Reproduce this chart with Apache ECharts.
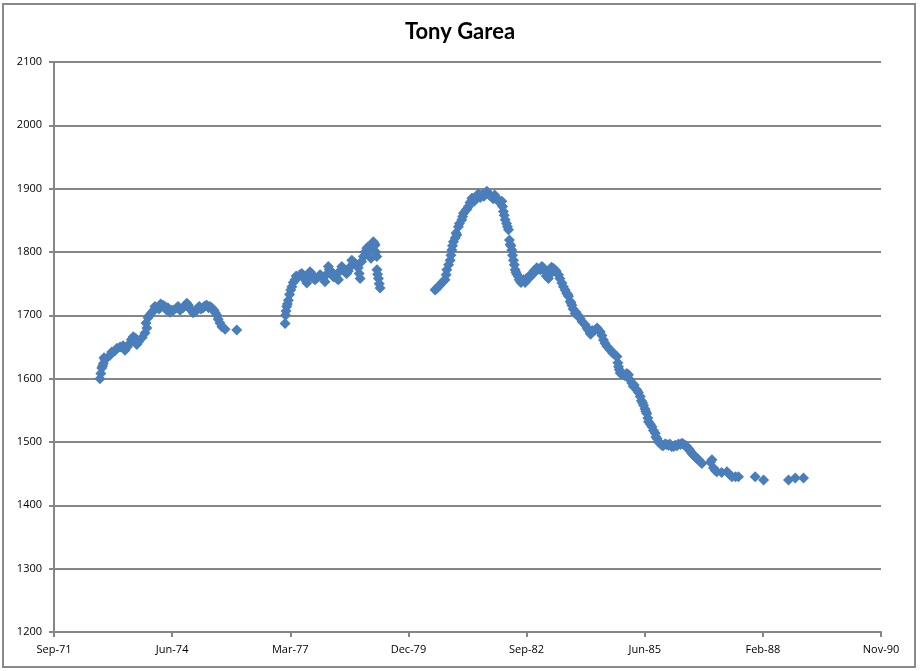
<!DOCTYPE html>
<html>
<head>
<meta charset="utf-8">
<script src="https://cdn.jsdelivr.net/npm/echarts@6/dist/echarts.min.js"></script>
<style>
  html, body { margin: 0; padding: 0; background: #fff; }
  #chart { width: 920px; height: 671px; }
</style>
</head>
<body>
<div id="chart"></div>
<script>
// rating history (scatter, so order does not matter)
var dates = [
  '1972-10-17', '1972-10-25', '1972-11-01', '1972-11-15', '1972-11-29', '1973-01-10', '1973-02-21',
  '1973-04-05', '1973-05-17', '1973-06-28', '1973-07-26', '1973-09-07', '1973-10-10', '1973-11-02',
  '1973-11-11', '1973-11-28', '1973-12-29', '1974-02-10', '1974-03-01', '1974-04-04', '1974-05-01',
  '1974-06-02', '1974-07-01', '1974-07-29', '1974-08-26', '1974-09-20', '1974-10-22', '1974-11-20',
  '1974-12-14', '1975-01-25', '1975-02-20', '1975-03-25', '1975-04-25', '1975-05-21', '1975-06-10',
  '1975-07-03', '1975-07-30', '1975-09-11', '1975-12-19',
  '1977-01-31', '1977-02-04', '1977-02-14', '1977-02-28', '1977-03-10', '1977-03-29', '1977-04-25',
  '1977-05-20', '1977-06-21', '1977-07-15', '1977-08-03', '1977-08-30', '1977-09-20', '1977-10-12',
  '1977-11-23', '1977-12-15', '1978-01-04', '1978-02-01', '1978-02-20', '1978-03-16', '1978-04-05',
  '1978-04-27', '1978-05-26', '1978-06-15', '1978-07-07', '1978-08-01', '1978-08-19', '1978-09-30',
  '1978-10-12', '1978-10-28', '1978-11-25', '1978-12-24', '1979-01-10', '1979-01-28', '1979-02-17',
  '1979-03-04', '1979-03-10', '1979-03-18', '1979-03-20', '1979-04-01', '1979-04-15',
  '1980-07-24', '1980-08-15', '1980-09-04', '1980-10-16', '1980-10-31', '1980-11-28', '1980-12-12',
  '1980-12-26', '1981-01-10', '1981-01-24', '1981-02-06', '1981-03-07', '1981-03-21', '1981-04-10',
  '1981-05-02', '1981-05-31', '1981-06-20', '1981-07-12', '1981-08-23', '1981-09-10', '1981-10-05',
  '1981-11-16', '1981-12-10', '1981-12-28', '1982-01-20', '1982-02-09', '1982-02-22', '1982-03-09',
  '1982-04-06', '1982-04-14', '1982-04-26', '1982-05-04', '1982-05-18', '1982-06-01', '1982-06-15',
  '1982-06-29', '1982-07-20', '1982-08-11', '1982-09-22', '1982-10-20', '1982-11-18', '1982-12-15',
  '1983-01-13', '1983-02-05', '1983-03-10', '1983-04-22', '1983-05-15', '1983-06-03', '1983-07-02',
  '1983-07-30', '1983-08-12', '1983-08-27', '1983-09-10', '1983-09-24', '1983-10-22', '1983-11-15',
  '1983-12-04', '1984-01-15', '1984-02-26', '1984-03-15', '1984-04-09', '1984-05-01', '1984-05-21',
  '1984-06-18', '1984-07-17', '1984-08-28', '1984-09-20', '1984-10-10', '1984-10-23', '1984-11-06',
  '1984-12-15', '1985-01-16', '1985-02-13', '1985-03-05', '1985-03-28', '1985-04-25', '1985-05-05',
  '1985-05-23', '1985-06-05', '1985-06-20', '1985-07-04', '1985-08-02', '1985-08-30', '1985-09-15',
  '1985-09-27', '1985-10-25', '1985-11-20', '1985-12-20', '1986-01-15', '1986-02-15', '1986-03-15',
  '1986-04-13', '1986-05-25', '1986-06-15', '1986-07-06', '1986-07-28', '1986-08-18', '1986-09-29',
  '1986-12-23', '1987-01-05', '1987-02-03', '1987-04-29', '1987-06-10', '1987-08-05', '1987-12-24',
  '1988-03-04', '1988-10-01', '1988-11-27', '1989-02-05',
  // more readings along the edges of the band
  '1972-11-08', '1972-11-20', '1973-01-25', '1973-03-10', '1973-05-01', '1973-06-05', '1973-07-10',
  '1973-08-15', '1973-08-25', '1973-11-18', '1973-12-10', '1974-01-15', '1974-01-25', '1974-03-15',
  '1974-04-20', '1974-05-15', '1974-06-15', '1974-08-10', '1974-10-05', '1974-11-05', '1974-12-01',
  '1975-01-05', '1975-02-05', '1975-03-10', '1975-04-10', '1975-05-05', '1975-06-20', '1975-07-15',
  '1975-08-15',
  '1977-02-08', '1977-02-20', '1977-03-20', '1977-04-10', '1977-05-05', '1977-06-05', '1977-07-01',
  '1977-07-25', '1977-08-15', '1977-09-10', '1977-10-01', '1977-11-05', '1977-12-05', '1978-01-15',
  '1978-02-10', '1978-03-01', '1978-04-15', '1978-05-10', '1978-06-25', '1978-07-20', '1978-09-05',
  '1978-10-20', '1978-11-10', '1978-12-10', '1979-01-02', '1979-02-05', '1979-02-25', '1979-03-25',
  '1979-04-08',
  '1980-08-01', '1980-09-20', '1980-10-25', '1980-11-15', '1980-12-05', '1980-12-18', '1981-01-17',
  '1981-02-15', '1981-03-14', '1981-04-20', '1981-05-15', '1981-06-05', '1981-07-01', '1981-07-25',
  '1981-08-10', '1981-09-20', '1981-10-20', '1981-11-01', '1981-11-28', '1982-01-05', '1982-02-15',
  '1982-03-01', '1982-03-20', '1982-03-28', '1982-04-20', '1982-05-10', '1982-05-25', '1982-06-08',
  '1982-07-05', '1982-07-30', '1982-08-25', '1982-09-05', '1982-10-05', '1982-11-05', '1982-12-01',
  '1983-01-01', '1983-01-25', '1983-02-20', '1983-03-25', '1983-04-05', '1983-05-01', '1983-06-15',
  '1983-07-15',
  '1983-08-20', '1983-09-17', '1983-10-05', '1983-10-30', '1983-12-20', '1984-01-30', '1984-02-10',
  '1984-03-01', '1984-04-25', '1984-06-05', '1984-07-01', '1984-08-10', '1984-09-05', '1984-10-18',
  '1984-10-30', '1984-11-20', '1985-01-01', '1985-01-30', '1985-02-25', '1985-04-10', '1985-05-15',
  '1985-06-12', '1985-06-28', '1985-07-20', '1985-08-15', '1985-09-05', '1985-10-10', '1985-11-05',
  '1985-12-05', '1986-01-01', '1986-02-01', '1986-03-01', '1986-04-01', '1986-04-25', '1986-05-10',
  '1986-06-01', '1986-06-25', '1986-07-18', '1986-08-05', '1986-09-01', '1986-09-15', '1986-12-10',
  '1987-01-20', '1987-03-15', '1987-05-20', '1987-07-10'
]
var ratings = [
  1600, 1608, 1617, 1624, 1630, 1637, 1644,
  1650, 1645, 1656, 1666, 1658, 1665, 1672,
  1688, 1696, 1704, 1712, 1710, 1716, 1709,
  1705, 1708, 1712, 1708, 1712, 1719, 1710,
  1704, 1712, 1710, 1715, 1712, 1712, 1708,
  1700, 1688, 1678, 1677,
  1687, 1700, 1714, 1724, 1733, 1745, 1756,
  1760, 1766, 1760, 1751, 1769, 1762, 1756,
  1764, 1760, 1753, 1777, 1770, 1761, 1760,
  1756, 1777, 1772, 1766, 1776, 1787, 1780,
  1775, 1758, 1793, 1806, 1800, 1790, 1816,
  1811, 1800, 1793, 1772, 1758, 1743,
  1740, 1744, 1748, 1756, 1772, 1787, 1803,
  1816, 1822, 1827, 1840, 1851, 1861, 1866,
  1872, 1885, 1880, 1887, 1890, 1888, 1896,
  1887, 1890, 1885, 1878, 1880, 1864, 1851,
  1835, 1819, 1810, 1803, 1787, 1772, 1765,
  1761, 1752, 1756, 1761, 1765, 1769, 1773,
  1777, 1770, 1758, 1774, 1770, 1764, 1751,
  1740, 1735, 1730, 1722, 1716, 1703, 1700,
  1695, 1685, 1672, 1676, 1677, 1678, 1674,
  1661, 1651, 1643, 1638, 1635, 1619, 1609,
  1605, 1606, 1593, 1590, 1582, 1572, 1565,
  1558, 1552, 1545, 1532, 1524, 1514, 1505,
  1500, 1495, 1497, 1495, 1493, 1495, 1497,
  1498, 1493, 1488, 1482, 1478, 1474, 1466,
  1472, 1459, 1453, 1453, 1445, 1445, 1445,
  1440, 1440, 1443, 1443,
  // more readings along the edges of the band
  1620, 1633, 1642, 1648, 1652, 1650, 1662,
  1664, 1654, 1680, 1700, 1708, 1714, 1718,
  1714, 1712, 1708, 1714, 1715, 1716, 1708,
  1706, 1714, 1712, 1716, 1714, 1704, 1694,
  1682,
  1707, 1718, 1740, 1752, 1762, 1764, 1762,
  1755, 1762, 1766, 1758, 1760, 1762, 1764,
  1772, 1766, 1758, 1770, 1768, 1770, 1784,
  1766, 1785, 1800, 1808, 1808, 1814, 1765,
  1750,
  1742, 1752, 1764, 1780, 1795, 1810, 1830,
  1845, 1856, 1868, 1878, 1884, 1885, 1892,
  1886, 1893, 1892, 1889, 1884, 1883, 1872,
  1858, 1845, 1840, 1812, 1795, 1780, 1768,
  1756, 1754, 1752, 1758, 1760, 1770, 1775,
  1772, 1775, 1762, 1765, 1776, 1772, 1758,
  1745,
  1733, 1720, 1710, 1705, 1690, 1680, 1677,
  1670, 1680, 1668, 1656, 1646, 1640, 1625,
  1614, 1607, 1608, 1598, 1588, 1578, 1562,
  1548, 1538, 1528, 1518, 1508, 1498, 1494,
  1496, 1497, 1493, 1494, 1496, 1497, 1495,
  1490, 1485, 1480, 1476, 1472, 1469, 1468,
  1455, 1452, 1449, 1445
]
var monthNames = ['Jan', 'Feb', 'Mar', 'Apr', 'May', 'Jun', 'Jul', 'Aug', 'Sep', 'Oct', 'Nov', 'Dec']

// x axis counts days from the first tick (Sep-71), ticks every 1000 days like Excel
var axisStart = Date.UTC(1971, 8, 24)
var DAY = 86400000

function toDays(s) {
  var p = s.split('-')
  return (Date.UTC(+p[0], +p[1] - 1, +p[2]) - axisStart) / DAY
}

var points = []
for (var i = 0; i < dates.length; i++) {
  points.push([toDays(dates[i]), ratings[i]])
}

var myChart = echarts.init(document.getElementById('chart'))
myChart.setOption({
  animation: false,
  backgroundColor: '#fff',
  graphic: [
    {
      type: 'rect',
      shape: { x: 3, y: 4, width: 912, height: 663 },
      style: { fill: 'none', stroke: '#898989', lineWidth: 2 },
      silent: true
    }
  ],
  title: {
    text: 'Tony Garea',
    left: 'center',
    top: 16,
    textStyle: {
      fontFamily: 'Lato',
      fontWeight: 'bold',
      fontSize: 22,
      color: '#000'
    }
  },
  grid: {
    left: 54,
    right: 39,
    top: 62,
    bottom: 39
  },
  xAxis: {
    type: 'value',
    min: 0,
    max: 7000,
    interval: 1000,
    axisLine: { lineStyle: { color: '#868686', width: 2 } },
    axisTick: { show: true, length: 5, lineStyle: { color: '#868686', width: 2 } },
    splitLine: { show: false },
    axisLabel: {
      margin: 12,
      color: '#000',
      fontFamily: 'Open Sans',
      fontSize: 11,
      showMinLabel: true,
      showMaxLabel: true,
      formatter: function(v) {
        var d = new Date(axisStart + v * DAY)
        var yy = ('0' + (d.getUTCFullYear() % 100)).slice(-2)
        return monthNames[d.getUTCMonth()] + '-' + yy
      }
    }
  },
  yAxis: {
    type: 'value',
    min: 1200,
    max: 2100,
    interval: 100,
    axisLine: { show: true, lineStyle: { color: '#868686', width: 2 } },
    axisTick: { show: true, length: 5, lineStyle: { color: '#868686', width: 2 } },
    splitLine: { show: true, lineStyle: { color: '#868686', width: 2 } },
    axisLabel: {
      margin: 12,
      color: '#000',
      fontFamily: 'Open Sans',
      fontSize: 11,
      formatter: function(v) {
        return String(v)
      }
    }
  },
  series: [
    {
      name: 'Tony Garea',
      type: 'scatter',
      symbol: 'diamond',
      symbolSize: 11,
      itemStyle: {
        color: '#4A7EBB',
        opacity: 1
      },
      data: points
    }
  ]
})
</script>
</body>
</html>
